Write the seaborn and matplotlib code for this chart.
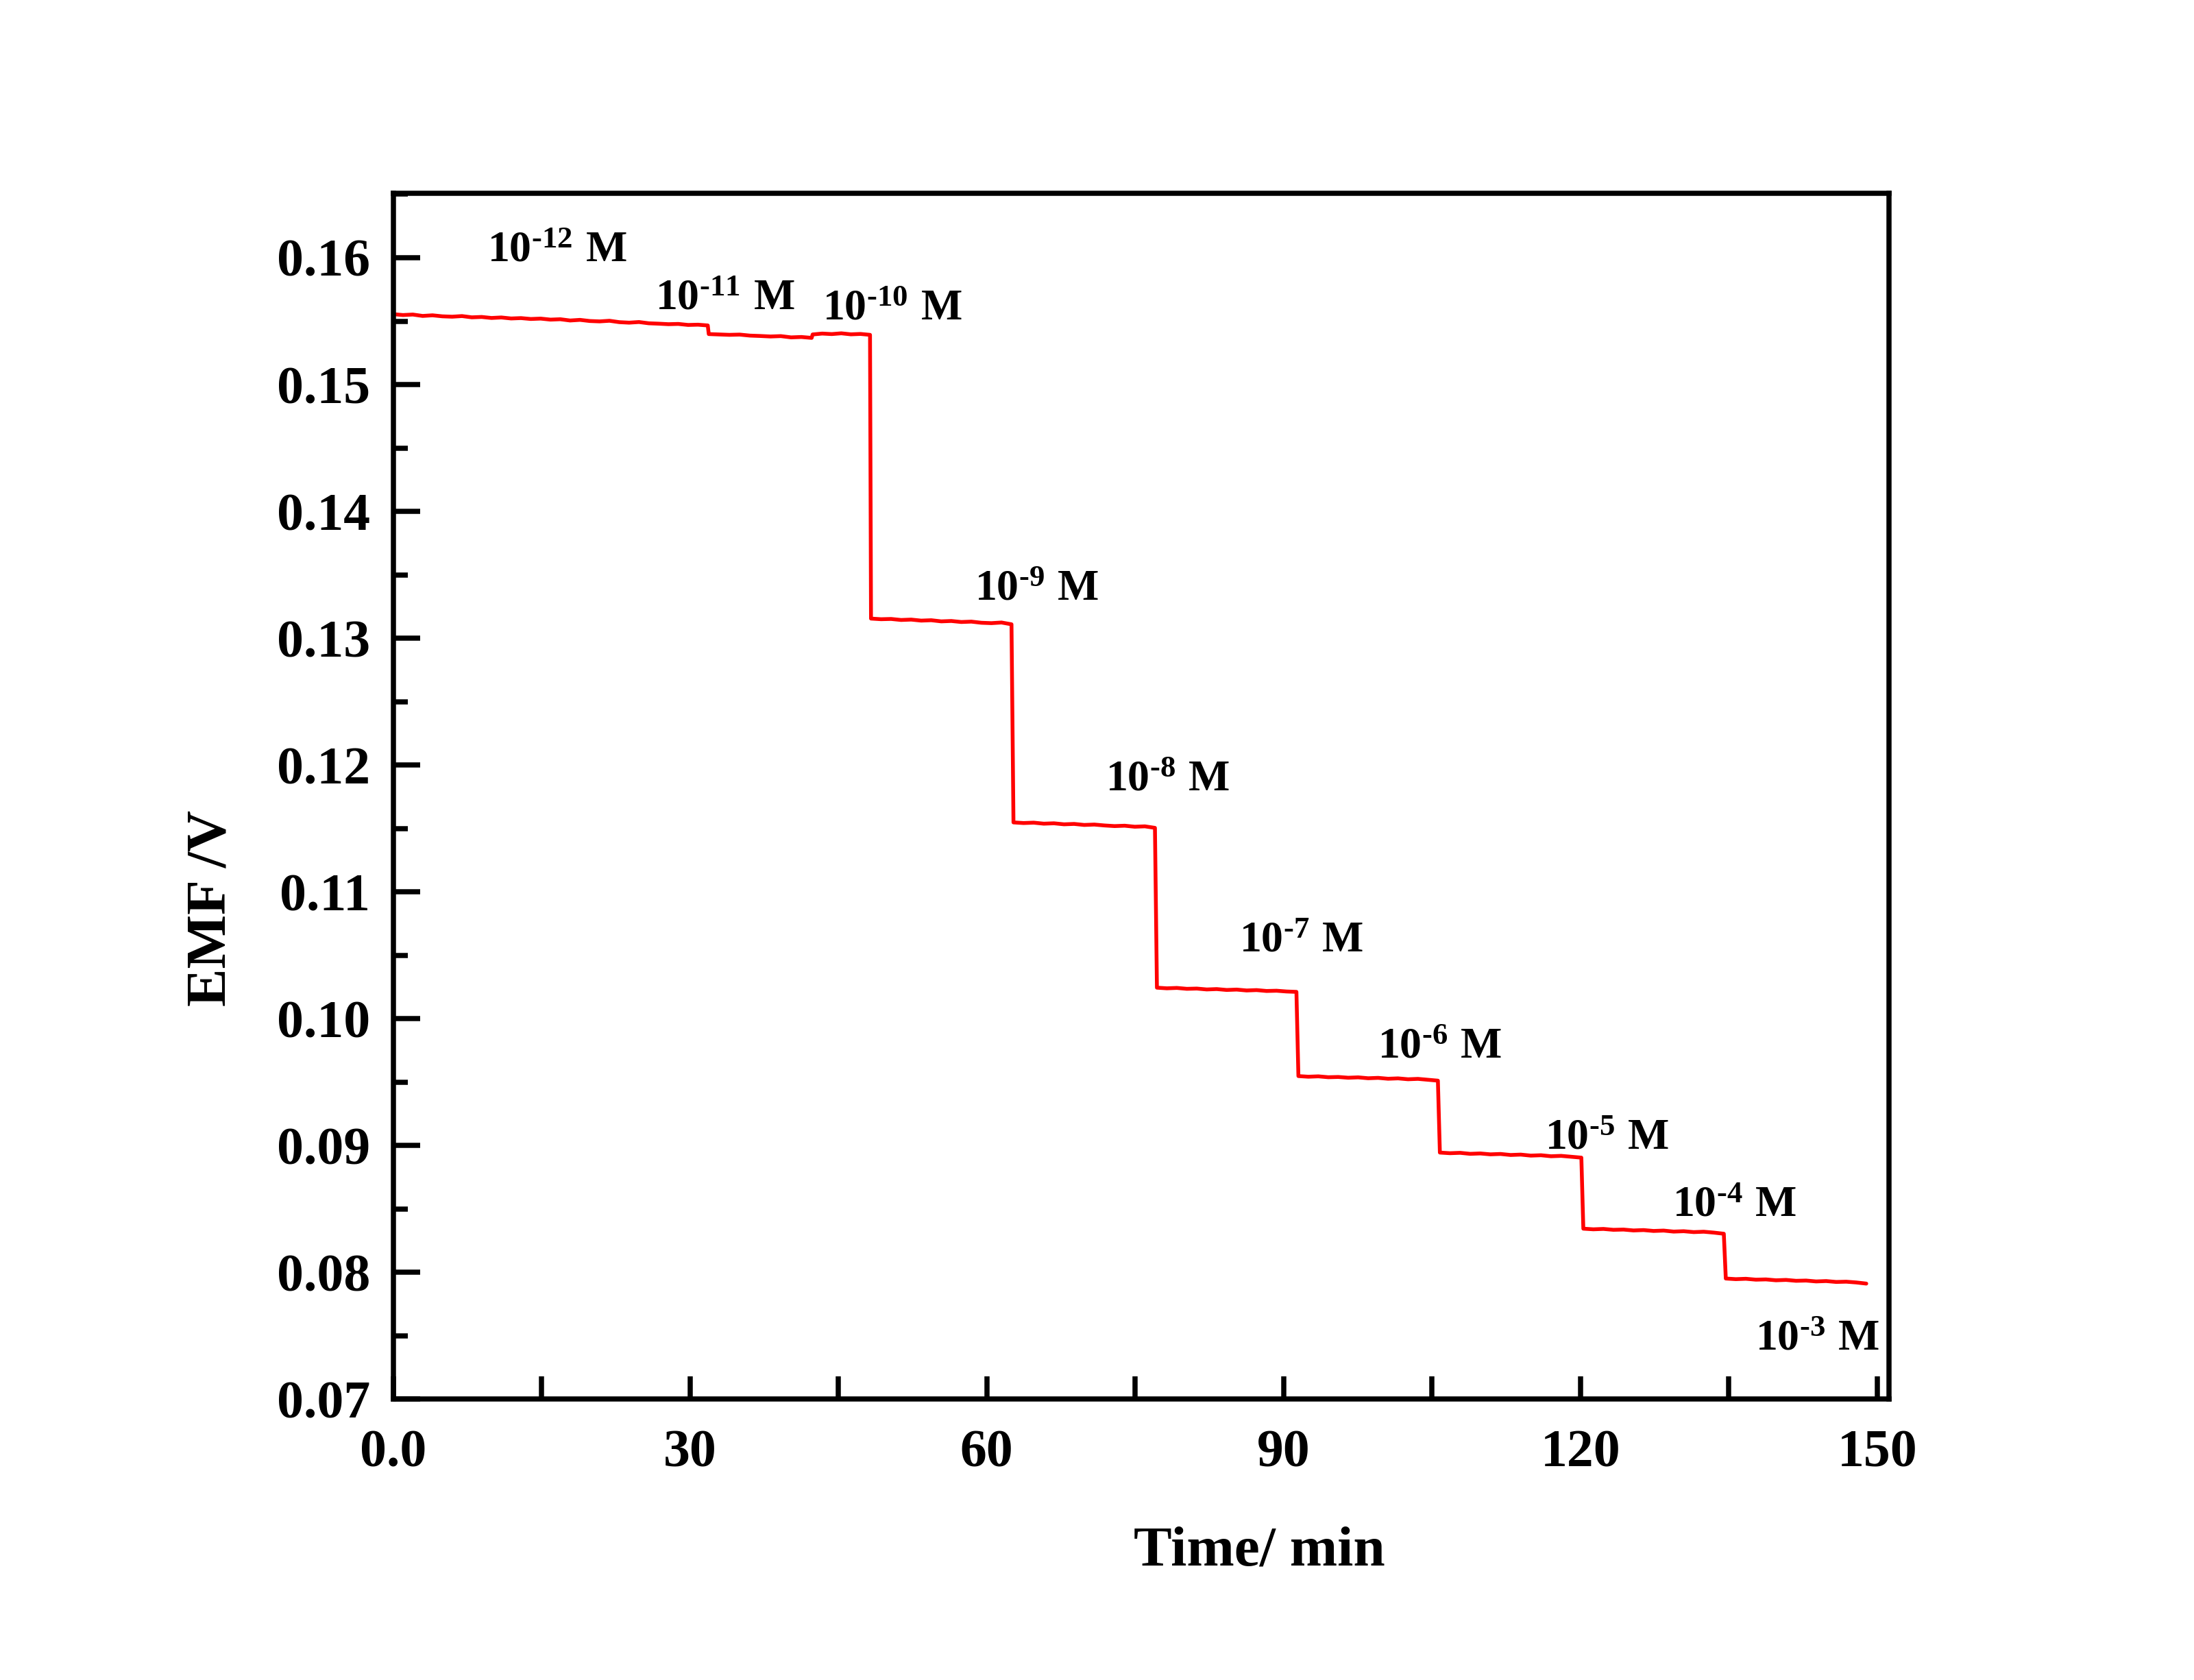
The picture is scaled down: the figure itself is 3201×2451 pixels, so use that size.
import numpy as np
import pandas as pd
import matplotlib
matplotlib.use("Agg")
import matplotlib.pyplot as plt
import seaborn as sns
from matplotlib.ticker import MultipleLocator, FixedLocator

# plateau start / end times (min)
seg_start = [0.0, 31.9, 42.4, 48.3, 62.7, 77.2, 91.5, 105.8, 120.3, 134.7]
seg_end = [31.8, 42.3, 48.2, 62.5, 77.0, 91.3, 105.6, 120.1, 134.5, 148.9]

# EMF readings (V) on each plateau
emf_1 = [0.15555, 0.15548, 0.15552, 0.15541, 0.15546, 0.15538, 0.15535, 0.15540,
         0.15530, 0.15533, 0.15525, 0.15529, 0.15521, 0.15524, 0.15517, 0.15520,
         0.15512, 0.15515, 0.15505, 0.15510, 0.15501, 0.15498, 0.15503, 0.15492,
         0.15488, 0.15493, 0.15483, 0.15480, 0.15476, 0.15478, 0.15470, 0.15472,
         0.15466]
emf_2 = [0.15398, 0.15395, 0.15392, 0.15394, 0.15386, 0.15383, 0.15379, 0.15382,
         0.15372, 0.15375, 0.15368]
emf_3 = [0.15395, 0.15402, 0.15398, 0.15404, 0.15396, 0.15399, 0.15392]
emf_4 = [0.13155, 0.13150, 0.13152, 0.13144, 0.13147, 0.13139, 0.13142, 0.13133,
         0.13136, 0.13128, 0.13131, 0.13122, 0.13119, 0.13124, 0.13110]
emf_5 = [0.11548, 0.11543, 0.11546, 0.11538, 0.11541, 0.11533, 0.11536, 0.11528,
         0.11531, 0.11524, 0.11519, 0.11522, 0.11514, 0.11517, 0.11505]
emf_6 = [0.10245, 0.10240, 0.10243, 0.10236, 0.10238, 0.10231, 0.10234, 0.10227,
         0.10230, 0.10223, 0.10226, 0.10219, 0.10221, 0.10215, 0.10212]
emf_7 = [0.09548, 0.09543, 0.09546, 0.09539, 0.09541, 0.09535, 0.09538, 0.09531,
         0.09534, 0.09527, 0.09530, 0.09523, 0.09526, 0.09519, 0.09512]
emf_8 = [0.08945, 0.08940, 0.08943, 0.08935, 0.08938, 0.08931, 0.08934, 0.08926,
         0.08929, 0.08921, 0.08924, 0.08916, 0.08919, 0.08912, 0.08905]
emf_9 = [0.08345, 0.08340, 0.08343, 0.08336, 0.08338, 0.08331, 0.08334, 0.08327,
         0.08330, 0.08322, 0.08325, 0.08318, 0.08321, 0.08314, 0.08305]
emf_10 = [0.07952, 0.07947, 0.07950, 0.07943, 0.07945, 0.07938, 0.07941, 0.07934,
          0.07936, 0.07929, 0.07932, 0.07925, 0.07927, 0.07921, 0.07912]

# concentration labels
label_exps = [-12, -11, -10, -9, -8, -7, -6, -5, -4, -3]
label_t = [9.5, 26.5, 43.4, 58.8, 72.0, 85.5, 99.5, 116.4, 129.3, 137.7]
label_emf = [0.1597, 0.1559, 0.1551, 0.1330, 0.1180, 0.1053, 0.0969, 0.0897, 0.0844, 0.0739]

x_ticks = [0, 30, 60, 90, 120, 150]
x_ticklabels = ["0.0", "30", "60", "90", "120", "150"]

sns.set_style("white")
plt.rcParams['font.family'] = ['Liberation Serif', 'DejaVu Serif']
plt.rcParams['font.weight'] = 'bold'
plt.rcParams['text.color'] = 'black'
plt.rcParams['axes.labelcolor'] = 'black'
plt.rcParams['xtick.color'] = 'black'
plt.rcParams['ytick.color'] = 'black'
plt.rcParams['mathtext.fontset'] = 'custom'
plt.rcParams['mathtext.rm'] = 'Liberation Serif:bold'
plt.rcParams['mathtext.bf'] = 'Liberation Serif:bold'
plt.rcParams['mathtext.it'] = 'Liberation Serif:bold'

segments = [emf_1, emf_2, emf_3, emf_4, emf_5, emf_6, emf_7, emf_8, emf_9, emf_10]
times, emfs = [], []
for t0, t1, vals in zip(seg_start, seg_end, segments):
    times.extend(np.linspace(t0, t1, len(vals)))
    emfs.extend(vals)
df = pd.DataFrame({"time": times, "emf": emfs})

fig = plt.figure(figsize=(16.005, 12.255), dpi=200)
ax = fig.add_axes([0.1792, 0.1671, 0.8610 - 0.1792, 0.8851 - 0.1671])

sns.lineplot(data=df, x="time", y="emf", ax=ax, color="#ff0000", lw=2.0,
             sort=False, estimator=None)

ax.set_xlim(0, 151.2)
ax.set_ylim(0.07, 0.1651)

ax.xaxis.set_major_locator(FixedLocator(x_ticks))
ax.set_xticklabels(x_ticklabels)
ax.xaxis.set_minor_locator(MultipleLocator(15))
ax.yaxis.set_major_locator(MultipleLocator(0.01))
ax.yaxis.set_minor_locator(MultipleLocator(0.005))
ax.yaxis.set_major_formatter(plt.FormatStrFormatter('%.2f'))

ax.tick_params(axis='x', which='both', direction='in', length=12, width=2.7,
               labelsize=28, pad=16, top=False, bottom=True, colors='black')
ax.tick_params(axis='y', which='major', direction='in', length=14, width=2.7,
               labelsize=28, pad=12, left=True, right=False, colors='black')
ax.tick_params(axis='y', which='minor', direction='in', length=7.5, width=2.7,
               left=True, right=False, colors='black')
for lab in ax.get_xticklabels() + ax.get_yticklabels():
    lab.set_fontweight('bold')

for s in ax.spines.values():
    s.set_linewidth(2.7)
    s.set_color('black')

ax.set_xlabel("Time/ min", fontsize=30, fontweight='bold', color='black')
ax.set_ylabel("EMF /V", fontsize=30, fontweight='bold', color='black')
ax.xaxis.set_label_coords(0.579, -0.105)
ax.yaxis.set_label_coords(-0.104, 0.407)

for e, tx, ty in zip(label_exps, label_t, label_emf):
    ax.text(tx, ty, '$\\mathbf{10^{\u2010%d}\\ M}$' % abs(e), fontsize=23,
            ha='left', va='baseline', color='black')

fig.savefig("out.png", dpi=200)
